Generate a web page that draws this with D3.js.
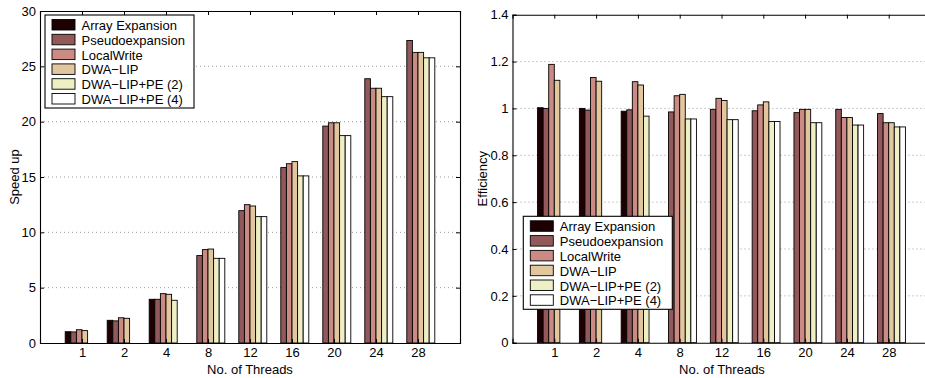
<!DOCTYPE html>
<html>
<head>
<meta charset="utf-8">
<script src="https://cdn.jsdelivr.net/npm/d3@7"></script>
<style>
  body { margin: 0; background: #fff; }
  svg { display: block; font-family: "Liberation Sans", Arial, Helvetica, sans-serif; }
  .grid line { stroke: #9a9a9a; stroke-dasharray: 1,3; }
</style>
</head>
<body>
<svg id="chart" width="925" height="378"></svg>
<script>
// thread counts on the x axis
var threads = ['1', '2', '4', '8', '12', '16', '20', '24', '28'];
var seriesNames = ['Array Expansion', 'Pseudoexpansion', 'LocalWrite', 'DWA\u2212LIP', 'DWA\u2212LIP+PE (2)', 'DWA\u2212LIP+PE (4)'];
var seriesColors = ['#1e0003', '#93585a', '#cc8a84', '#e2c69e', '#efefc6', '#ffffff'];

// speed up, one array per series (0 = no bar)
var speedArray  = [1.02, 2.05, 3.95, 0, 0, 0, 0, 0, 0];
var speedPseudo = [1.0, 2.0, 3.95, 7.9, 11.96, 15.85, 19.6, 23.88, 27.34];
var speedLocal  = [1.2, 2.28, 4.46, 8.44, 12.5, 16.2, 19.9, 23.02, 26.26];
var speedDwa    = [1.12, 2.23, 4.4, 8.49, 12.38, 16.39, 19.9, 23.02, 26.26];
var speedPe2    = [0, 0, 3.86, 7.65, 11.42, 15.1, 18.74, 22.26, 25.77];
var speedPe4    = [0, 0, 0, 7.65, 11.42, 15.1, 18.74, 22.26, 25.77];

// efficiency
var effArray  = [1.003, 1.0, 0.988, 0, 0, 0, 0, 0, 0];
var effPseudo = [1.0, 0.993, 0.994, 0.985, 0.996, 0.99, 0.982, 0.996, 0.978];
var effLocal  = [1.188, 1.132, 1.114, 1.054, 1.043, 1.015, 0.996, 0.961, 0.939];
var effDwa    = [1.12, 1.116, 1.1, 1.06, 1.034, 1.028, 0.996, 0.961, 0.939];
var effPe2    = [0, 0, 0.967, 0.955, 0.952, 0.944, 0.939, 0.929, 0.921];
var effPe4    = [0, 0, 0, 0.955, 0.952, 0.944, 0.939, 0.929, 0.921];

var speedTicks = [0, 5, 10, 15, 20, 25, 30];
var effTicks = [0, 0.2, 0.4, 0.6, 0.8, 1, 1.2, 1.4];

var svg = d3.select('#chart');

function drawPanel(cfg) {
    var g = svg.append('g');
    var x = d3.scaleLinear().domain([0, threads.length + 1]).range([cfg.left, cfg.right]);
    var y = d3.scaleLinear().domain([0, cfg.ymax]).range([cfg.bottom, cfg.top]);
    var unit = x(1) - x(0);
    var groupW = unit * 0.8;
    var bw = groupW / cfg.series.length;

    // dotted grid
    g.append('g').attr('class', 'grid')
        .selectAll('line')
        .data(cfg.ticks.slice(1, -1))
        .join('line')
        .attr('x1', cfg.left).attr('x2', cfg.right)
        .attr('y1', d => y(d)).attr('y2', d => y(d));

    // bars
    cfg.series.forEach(function(values, s) {
        g.append('g').selectAll('rect')
            .data(values)
            .join('rect')
            .attr('x', (d, i) => x(i + 1) - groupW / 2 + s * bw)
            .attr('width', bw)
            .attr('y', d => y(d))
            .attr('height', d => y(0) - y(d))
            .attr('fill', seriesColors[s])
            .attr('stroke', '#000')
            .attr('stroke-width', 0.9);
    });

    // box + ticks
    var yAxisL = d3.axisLeft(y).tickValues(cfg.ticks).tickSize(-4).tickPadding(4).tickFormat(cfg.fmt);
    var yAxisR = d3.axisRight(y).tickValues(cfg.ticks).tickSize(-4).tickFormat('');
    var xTicks = d3.range(1, threads.length + 1);
    var xAxisB = d3.axisBottom(x).tickValues(xTicks).tickSize(-4).tickPadding(5).tickFormat(d => threads[d - 1]);
    var xAxisT = d3.axisTop(x).tickValues(xTicks).tickSize(-4).tickFormat('');

    [
        g.append('g').attr('transform', 'translate(' + cfg.left + ',0)').call(yAxisL),
        g.append('g').attr('transform', 'translate(' + cfg.right + ',0)').call(yAxisR),
        g.append('g').attr('transform', 'translate(0,' + cfg.bottom + ')').call(xAxisB),
        g.append('g').attr('transform', 'translate(0,' + cfg.top + ')').call(xAxisT)
    ].forEach(function(a) {
        a.select('.domain').attr('stroke', '#000').attr('stroke-width', 1.1);
        a.selectAll('.tick line').attr('stroke', '#000');
        a.selectAll('text').attr('font-size', 13).attr('fill', '#000')
            .attr('font-family', '"Liberation Sans", Arial, sans-serif');
    });

    g.append('text')
        .attr('transform', 'translate(' + cfg.ylabelX + ',' + (cfg.top + cfg.bottom) / 2 + ') rotate(-90)')
        .attr('text-anchor', 'middle')
        .attr('font-size', 13)
        .text(cfg.ylabel);

    g.append('text')
        .attr('x', cfg.xlabelX)
        .attr('y', 374)
        .attr('text-anchor', 'middle')
        .attr('font-size', 13)
        .text('No. of Threads');

    // legend
    var lg = g.append('g').attr('transform', 'translate(' + cfg.legendX + ',' + cfg.legendY + ')');
    lg.append('rect')
        .attr('width', 149).attr('height', 93)
        .attr('fill', '#fff').attr('stroke', '#000').attr('stroke-width', 1.1);
    var row = lg.selectAll('g.row')
        .data(seriesNames)
        .join('g')
        .attr('class', 'row')
        .attr('transform', (d, i) => 'translate(0,' + (4.5 + i * 14.8) + ')');
    row.append('rect')
        .attr('x', 7).attr('width', 23).attr('height', 10.5)
        .attr('fill', (d, i) => seriesColors[i])
        .attr('stroke', '#000').attr('stroke-width', 0.9);
    row.append('text')
        .attr('x', 36.5).attr('y', 10.5)
        .attr('font-size', 13)
        .text(d => d);
}

drawPanel({
    left: 40, right: 460, top: 11, bottom: 343,
    ymax: 30, ticks: speedTicks, fmt: d => String(d),
    series: [speedArray, speedPseudo, speedLocal, speedDwa, speedPe2, speedPe4],
    ylabel: 'Speed up', ylabelX: 19, xlabelX: 250,
    legendX: 45, legendY: 15
});

drawPanel({
    left: 512.5, right: 930.5, top: 14.7, bottom: 342.7,
    ymax: 1.4, ticks: effTicks, fmt: d => String(+d.toFixed(1)),
    series: [effArray, effPseudo, effLocal, effDwa, effPe2, effPe4],
    ylabel: 'Efficiency', ylabelX: 487, xlabelX: 722,
    legendX: 523.3, legendY: 216.3
});
</script>
</body>
</html>
